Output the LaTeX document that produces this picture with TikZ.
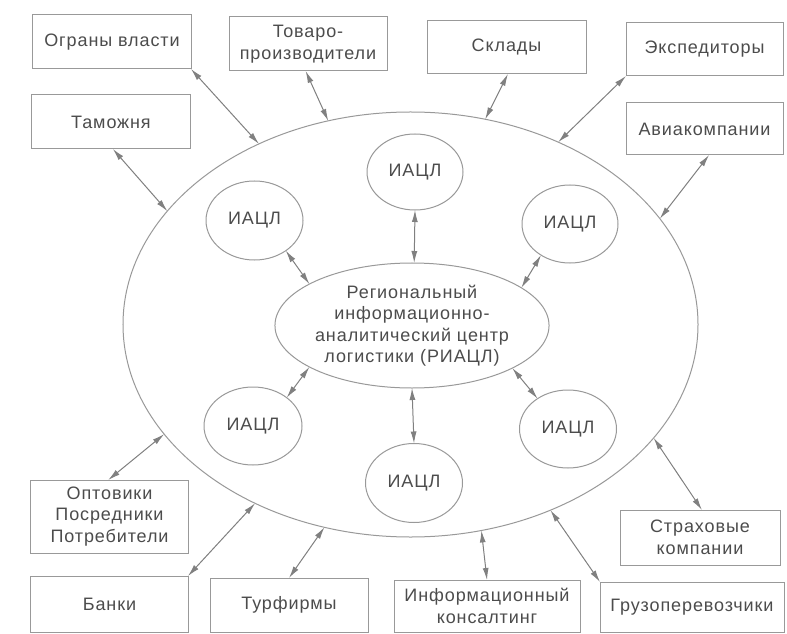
\documentclass[tikz,border=0pt]{standalone}
\usepackage{fontspec}
\setmainfont[LetterSpace=5]{Liberation Sans}
\usetikzlibrary{shapes.geometric,arrows.meta}
\begin{document}
\begin{tikzpicture}[x=1bp,y=-1bp,
  every node/.style={font=\fontsize{18bp}{21.5bp}\selectfont, text=black!70, outer sep=0pt, inner sep=0pt},
  box/.style={draw=black!40, line width=1bp, rectangle, align=center},
  oval/.style={draw=black!40, line width=1bp, ellipse, align=center},
  arr/.style={draw=black!50, line width=1bp, {Latex[length=12bp,width=6bp]}-{Latex[length=12bp,width=6bp]}}
]
\fill[white] (0,0) rectangle (787,634);
\useasboundingbox (0,0) rectangle (787,634);

% big ellipse
\node[oval, minimum width=575bp, minimum height=425bp] (big) at (410.5,324.5) {};

% centre
\node[oval, minimum width=220bp, minimum height=125bp] (c) at (412,325.5)
  {Региональный\\информационно-\\аналитический центр\\логистики (РИАЦЛ)};

% inner ellipses
\node[oval, minimum width=96bp, minimum height=76bp] (i1) at (415,172) {ИАЦЛ};
\node[oval, minimum width=97bp, minimum height=79bp] (i2) at (254.5,220.5) {ИАЦЛ};
\node[oval, minimum width=96bp, minimum height=78bp] (i3) at (570,224) {ИАЦЛ};
\node[oval, minimum width=98bp, minimum height=78bp] (i4) at (253,426) {ИАЦЛ};
\node[oval, minimum width=97bp, minimum height=78bp] (i5) at (568,429) {ИАЦЛ};
\node[oval, minimum width=97bp, minimum height=79bp] (i6) at (414,483) {ИАЦЛ};

% boxes
\node[box, minimum width=158bp, minimum height=54bp] (ograny) at (112,42) {Ограны власти};
\node[box, minimum width=158bp, minimum height=54bp] (tovaro) at (308,44) {Товаро-\\производители};
\node[box, minimum width=158bp, minimum height=54bp] (tamozh) at (111,122) {Таможня};
\node[box, minimum width=159bp, minimum height=53bp] (sklady) at (506.5,47.5) {Склады};
\node[box, minimum width=157bp, minimum height=53bp] (exped) at (704.5,49.5) {Экспедиторы};
\node[box, minimum width=157bp, minimum height=52bp] (avia) at (704.5,129) {Авиакомпании};
\node[box, minimum width=157bp, minimum height=73bp] (optov) at (109.5,516.5) {Оптовики\\Посредники\\Потребители};
\node[box, minimum width=157bp, minimum height=56bp] (banki) at (109.5,604) {Банки};
\node[box, minimum width=158bp, minimum height=54bp] (turf) at (289,605) {Турфирмы};
\node[box, minimum width=186bp, minimum height=52bp] (infcons) at (487,606) {Информационный\\консалтинг};
\node[box, minimum width=184bp, minimum height=50bp] (gruz) at (692,607) {Грузоперевозчики};
\node[box, minimum width=160bp, minimum height=55bp] (strakh) at (700,537.5) {Страховые\\компании};

% inner arrows
\draw[arr] (i1.-90) -- (c.88);
\draw[arr] (i2.-44) -- (c.158);
\draw[arr] (i3.-133) -- (c.19);
\draw[arr] (i4.40) -- (c.202);
\draw[arr] (i5.135) -- (c.-23);
\draw[arr] (c.-90) -- (i6.90);

% outer arrows
\draw[arr] (ograny.south east) -- (big.130);
\draw[arr] (tovaro.-95) -- (big.112.5);
\draw[arr] (tamozh.-86) -- (big.155.2);
\draw[arr] (sklady.-87) -- (big.70);
\draw[arr] (exped.south west) -- (big.51.2);
\draw[arr] (avia.-80) -- (big.23.6);
\draw[arr] (optov.92) -- (big.204);
\draw[arr] (banki.north east) -- (big.229.9);
\draw[arr] (turf.north) -- (big.247);
\draw[arr] (infcons.north) -- (big.-71.1);
\draw[arr] (gruz.north west) -- (big.-53.2);
\draw[arr] (strakh.86) -- (big.-25.9);
\end{tikzpicture}
\end{document}
